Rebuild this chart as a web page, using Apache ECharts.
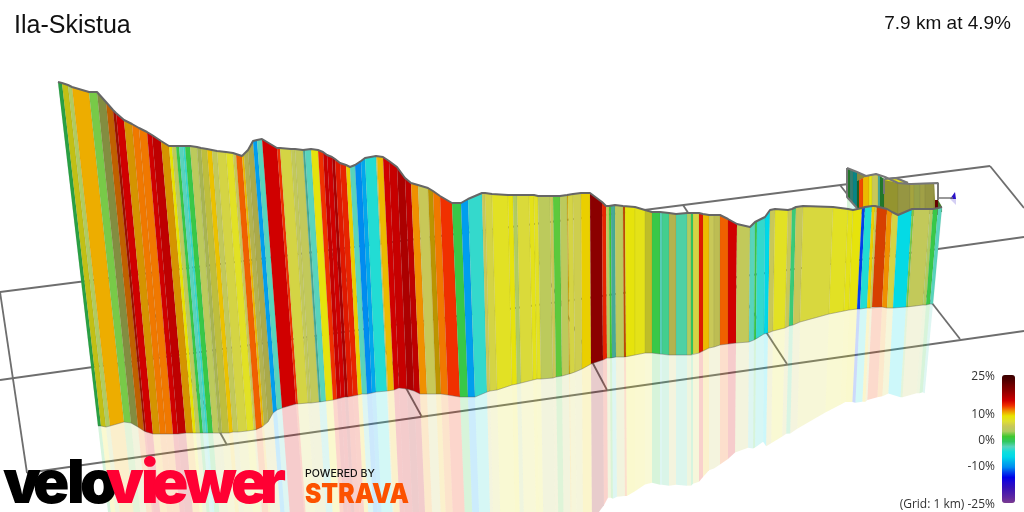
<!DOCTYPE html>
<html>
<head>
<meta charset="utf-8">
<script src="https://cdn.jsdelivr.net/npm/echarts@6/dist/echarts.min.js"></script>
<style>
  html, body { margin: 0; background: #fff; }
  #chart { width: 1024px; height: 512px; }
</style>
</head>
<body>
<div id="chart"></div>
<script>
// projected route: one entry per stripe edge
const topX = [58,62,68,72,89,97,106,113,116,124,132,139,147,152,161,169,172,176,179,183,185,190,197,201,207,212,217,226,233,236,242,244,248,253,257,262,277,280,291,295,303,305,311,318,323,327,332,335,340,346,350,355,361,365,376,377,383,389,397,405,411,418,428,433,440,452,461,468,482,485,492,508,513,517,529,534,538,550,553,560,567,568,573,581,590,602,606,609,611,615,623,625,635,645,652,660,662,669,676,687,691,693,699,703,709,714,720,728,737,750,755,757,765,770,775,788,792,796,803,833,848,853,862,865,872,875,877,887,892,898,912,914,930,933,938,942]
const topY = [82,83,85,87,92,92,102,110,113,120,124,128,132,135,141,146,146,146,146,146,146,146,147,148,149,150,151,152,153,154,156,155,150,141,140,139,148,148,149,149,150,150,149,150,152,155,157,159,163,165,167,165,161,158,156,156,157,161,167,178,183,185,188,191,196,203,203,199,193,193,194,195,195,195,195,195,196,196,196,196,195,195,194,193,193,202,206,206,205,205,206,206,207,210,212,212,212,213,214,213,213,213,213,214,215,215,215,219,224,227,222,221,217,210,209,210,209,207,206,207,209,210,208,207,206,206,206,209,212,215,209,209,209,209,208,207]
const baseX = [98,101,106,110,124,131,138,144,146,153,160,166,173,178,186,193,196,200,203,206,208,213,219,222,229,233,238,247,254,256,262,264,268,273,277,282,296,298,308,311,319,321,326,333,337,341,345,348,353,358,362,367,372,376,387,388,394,399,407,414,420,427,436,441,448,460,468,475,487,490,497,512,517,521,533,537,541,553,556,562,569,570,575,582,591,603,607,610,612,616,624,626,635,645,652,660,662,669,676,687,691,693,699,703,709,714,720,728,736,749,754,756,764,768,773,785,789,793,800,829,844,849,857,860,867,870,872,882,887,893,906,908,923,926,930,933]
const baseY = [426,426,427,426,422,423,427,431,432,434,434,434,434,434,433,433,433,433,433,433,433,433,433,433,433,432,432,431,430,430,427,425,422,413,410,408,404,404,403,403,402,402,401,400,399,398,397,397,396,395,394,394,393,392,391,391,390,388,389,391,394,394,394,394,395,397,397,397,392,391,390,385,384,383,380,379,379,378,377,376,374,374,372,369,364,360,358,358,358,357,357,357,355,353,353,354,354,355,355,355,355,354,353,351,348,347,345,344,343,342,340,339,334,333,331,328,326,325,322,314,311,310,309,309,308,308,307,307,308,308,307,307,305,305,304,304]
const gradePct = [-0.5,8,3,10.3,2,4,11.5,14,15,10.5,11.5,11.5,15,16,10.5,9,4,0,-3,-4,0,4,4,6,9.8,4.5,6,7.5,5,12,10,5,5,-10,-3,15,13,6,4.5,4.5,-3,-3,8.5,13,15.5,15,17,14,13.5,9.5,-3,-11,-9.5,-4.5,5,10,15,15.5,17,16,11,5,10,11.5,13,0,-10,-4,5,6,7.5,8.5,3,6.5,8,7.5,4,5,1.5,4,10,6,5.5,9.5,19,13.5,4,1,-3,4,12,8.5,8,7,0,-3,-2,5,-2.5,3,-1,6,14,10,5,5,12,15,4.5,-3,0,-4,-7,5,7.5,5,-1.5,5,6.3,7.5,8,8.5,-13,-4.5,9.5,5,12.5,11,6,-6.5,2,4.5,3,0,-3]
// stripes that sit in shadow: [stripe index, darkening]
const shadedStripes = [[0,.2],[1,.15],[5,.3],[6,.2],[7,.3],[9,.1],[14,.1],[22,.1],[23,.1],[31,.1],[32,.15],[40,.2],[62,.2],[80,.1],[88,.2],[90,.2],[93,.15],[97,.1],[105,.05],[126,.1]]

// far leg of the route, seen behind the main wall (null grade = gap)
const backX = [847,850,853,857,857,866,857,859,863,869,872,878,880,884,885,896,908,884,898,910,914,920,925,934,935,938,938,942]
const backTop = [168,169,171,172,172,176,181,180,178,175.5,175,175,176,179,178,178,182,180,183,184,184,183.5,183,183,200,200,200,207]
const backBase = [197,200,204,208,181,177,212,212,212,212,212,212,212,212,181,183,184,214,216,216,216,214,214,214,215,215,212,212]
const backGrade = [0,-3,-5,null,5,null,0,12.5,10,8.5,5,-3,0,null,8,8,null,6,5,5.5,4,5,5,6,17,null,2,null]
const backShade = [.4,.4,.4,0,.3,0,.5,0,0,0,0,.2,.4,0,0,0,0,.3,.25,.2,.2,.2,.25,.3,.4,0,.4,0]
const backLineX = [847,857,866,876,885,898,911,938,938,null,847,847,857,null,884,884,null,885,896,908]
const backLineY = [168,172,176,174,177,183,184,183,200,null,168,197,208,null,179,194,null,179,178,183]

const gridLines = [
  [0,292,990,166],[0,380,1024,237],[27,473,1024,331],
  [0,292,27,473],[227,445,130,270],[422,417,330,250],[607,390,520,226],[787,364,683,205],[960,339,840,185],[990,166,1024,208]
]
const flagLineX = [938,953]
const flagLineY = [198,198]

const legendTicks = [25,10,0,-10]
const scaleMin = -25
const scaleMax = 25
const scaleColors = ['#7a3a90','#6028a0','#4a1cac','#3410b8','#2008d0','#0000e8','#0040ec','#008cf0','#00b0ec','#00d8e8','#10dedc','#58d4bc','#30c860','#40c830','#b0cc60','#c8c858','#e0e030','#e8e400','#f09000','#f03000','#d00000','#ac0000','#8b0000','#700000','#500000','#3a0000']

const logoBlack = [['v',3],['e',33],['l',67],['o',80]]
const logoRed = [['v',106],['i',141],['e',152],['w',184],['e',231],['r',260]]

const shadeOf = {}
shadedStripes.forEach(s => { shadeOf[s[0]] = s[1] })

const chart = echarts.init(document.getElementById('chart'))

function quad(api, pts, fill, opacity) {
  return {
    type: 'polygon',
    shape: { points: pts.map(p => api.coord(p)) },
    style: { fill: fill, opacity: opacity, stroke: 'rgba(80,80,80,0.1)', lineWidth: 0.7 }
  }
}

function renderWall(params, api) {
  const i = api.value(0)
  const pts = [[topX[i],topY[i]],[topX[i+1],topY[i+1]],[baseX[i+1],baseY[i+1]],[baseX[i],baseY[i]]]
  const kids = [quad(api, pts, api.visual('color'), 1)]
  if (shadeOf[i]) {
    kids.push({ type: 'polygon', shape: { points: pts.map(p => api.coord(p)) }, style: { fill: '#000', opacity: shadeOf[i] } })
  }
  return { type: 'group', children: kids }
}

function renderMirror(params, api) {
  const i = api.value(0)
  const f = 0.92
  const pts = [
    [baseX[i],baseY[i]],[baseX[i+1],baseY[i+1]],
    [baseX[i+1]+(baseX[i+1]-topX[i+1])*f,baseY[i+1]+(baseY[i+1]-topY[i+1])*f],
    [baseX[i]+(baseX[i]-topX[i])*f,baseY[i]+(baseY[i]-topY[i])*f]
  ]
  return {
    type: 'polygon',
    shape: { points: pts.map(p => api.coord(p)) },
    style: { fill: api.visual('color'), opacity: 0.2 }
  }
}

function renderBack(params, api) {
  const i = api.value(0)
  const pts = [[backX[i],backTop[i]],[backX[i+1],backTop[i+1]],[backX[i+1],backBase[i+1]],[backX[i],backBase[i]]]
  const kids = [quad(api, pts, api.visual('color'), 1)]
  if (backShade[i]) {
    kids.push({ type: 'polygon', shape: { points: pts.map(p => api.coord(p)) }, style: { fill: '#000', opacity: backShade[i] } })
  }
  return { type: 'group', children: kids }
}

function renderBackMirror(params, api) {
  const i = api.value(0)
  if (i > 2) return null
  const f = 0.92
  const pts = [
    [backX[i],backBase[i]],[backX[i+1],backBase[i+1]],
    [backX[i+1],backBase[i+1]+(backBase[i+1]-backTop[i+1])*f],
    [backX[i],backBase[i]+(backBase[i]-backTop[i])*f]
  ]
  return { type: 'polygon', shape: { points: pts.map(p => api.coord(p)) }, style: { fill: api.visual('color'), opacity: 0.2 } }
}

function renderFlag(params, api) {
  return {
    type: 'group',
    children: [
      { type: 'polygon', shape: { points: [[950,199],[955,192],[956,199]].map(p => api.coord(p)) }, style: { fill: '#2a10c8' } },
      { type: 'polygon', shape: { points: [[950,199],[956,199],[956,205]].map(p => api.coord(p)) }, style: { fill: '#2a10c8', opacity: 0.2 } }
    ]
  }
}

const wallRows = gradePct.map((g, i) => [i, g])
const backRows = backGrade.map((g, i) => [i, g]).filter(r => r[1] !== null)
const lineData = (xs, ys) => xs.map((x, i) => (x === null ? [null, null] : [x, ys[i]]))

const labelStyle = { fontFamily: 'Open Sans', fontSize: 12, fill: '#333', textAlign: 'right', textVerticalAlign: 'middle' }
const logoLetter = (fill, z) => l => ({
  type: 'text', x: l[1], y: 514.5, z: z,
  style: { text: l[0], fontFamily: 'Inter', fontWeight: 900, fontSize: 60, fill: fill, verticalAlign: 'bottom' }
})

chart.setOption({
  animation: false,
  backgroundColor: '#fff',
  title: [
    { text: 'Ila-Skistua', left: 14, top: 14, padding: 0, textStyle: { fontFamily: 'Liberation Sans', fontSize: 25, fontWeight: 'normal', color: '#111' } },
    { text: '7.9 km at 4.9%', right: 13, top: 14, padding: 0, textStyle: { fontFamily: 'Liberation Sans', fontSize: 19, fontWeight: 'normal', color: '#111' } }
  ],
  grid: { left: 0, right: 0, top: 0, bottom: 0 },
  xAxis: { type: 'value', min: 0, max: 1024, show: false },
  yAxis: { type: 'value', min: 0, max: 512, inverse: true, show: false },
  visualMap: {
    type: 'continuous',
    min: scaleMin,
    max: scaleMax,
    dimension: 1,
    seriesIndex: [1, 2, 3, 4],
    calculable: false,
    hoverLink: false,
    text: null,
    left: 1002,
    top: 375,
    padding: 0,
    itemWidth: 13,
    itemHeight: 128,
    inRange: { color: scaleColors }
  },
  series: [
    {
      type: 'lines',
      coordinateSystem: 'cartesian2d',
      silent: true,
      z: 1,
      lineStyle: { color: '#6e6e6e', width: 1.8, opacity: 1 },
      data: gridLines.map(l => ({ coords: [[l[0], l[1]], [l[2], l[3]]] }))
    },
    { type: 'custom', silent: true, z: 2, data: backRows, renderItem: renderBackMirror, clip: false },
    { type: 'custom', silent: true, z: 3, data: backRows, renderItem: renderBack, clip: false },
    { type: 'custom', silent: true, z: 5, data: wallRows, renderItem: renderMirror, clip: true },
    { type: 'custom', silent: true, z: 6, data: wallRows, renderItem: renderWall, clip: false },
    {
      type: 'line', silent: true, z: 4, symbol: 'none', connectNulls: false,
      lineStyle: { color: '#777', width: 2 },
      data: lineData(backLineX, backLineY)
    },
    {
      type: 'line', silent: true, z: 4, symbol: 'none',
      lineStyle: { color: '#777', width: 1.5 },
      data: lineData(flagLineX, flagLineY)
    },
    { type: 'custom', silent: true, z: 4, data: [[0, 0]], renderItem: renderFlag, clip: false },
    {
      type: 'line', silent: true, z: 7, symbol: 'none',
      lineStyle: { color: '#666', width: 2 },
      data: lineData(topX, topY)
    },
    {
      type: 'line', silent: true, z: 7, symbol: 'none',
      lineStyle: { color: 'rgba(90,90,90,0.35)', width: 1 },
      data: lineData(baseX, baseY)
    }
  ],
  graphic: [
    ...legendTicks.map(t => ({
      type: 'text', x: 995, y: 440.5 - t * 2.56, z: 20,
      style: Object.assign({ text: t + '%' }, labelStyle)
    })),
    { type: 'text', x: 995, y: 504.5, z: 20, style: Object.assign({ text: '(Grid: 1 km) -25%' }, labelStyle) },
    ...logoBlack.map(logoLetter('#000', 20)),
    ...logoRed.map(logoLetter('#ff0033', 21)),
    { type: 'text', x: 305, y: 479, scaleX: 1.06, z: 20, style: { text: 'POWERED BY', fontFamily: 'Inter', fontWeight: 500, fontSize: 10, fill: '#111', verticalAlign: 'bottom' } },
    { type: 'text', x: 305, y: 508, scaleX: 0.91, z: 20, style: { text: 'STRAVA', fontFamily: 'Inter', fontWeight: 900, fontSize: 27, fill: '#fc5200', verticalAlign: 'bottom' } }
  ]
})
</script>
</body>
</html>
